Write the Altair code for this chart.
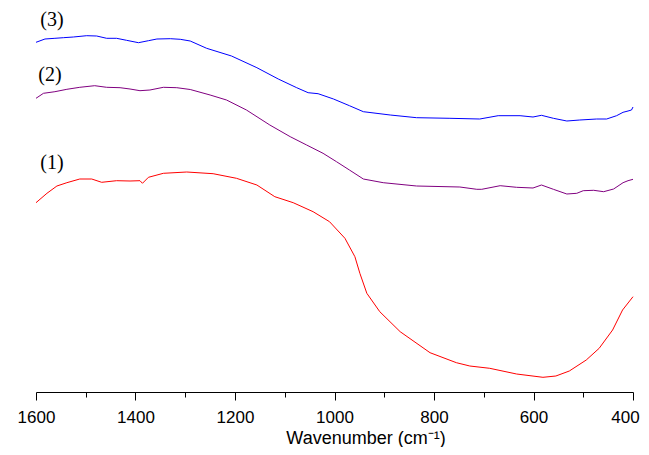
import altair as alt
import pandas as pd

# Wavenumbers (cm^-1) and relative transmittance (arbitrary units)
wn_1 = [1600, 1578, 1558, 1538, 1512, 1488, 1468, 1438, 1411, 1391, 1386, 1374, 1344, 1297,
        1244, 1197, 1156, 1120, 1083, 1043, 1010, 979, 959, 949, 935, 909, 868, 808, 755,
        728, 688, 634, 581, 555, 528, 494, 468, 441, 421, 400]
t_1 = [193.3, 202.7, 210, 213.3, 217, 217, 213.7, 215.3, 215, 215.3, 212.7, 218.7, 222.7, 224,
       222.3, 217.7, 211, 199.3, 193.3, 184.3, 174.3, 157.7, 139.3, 122.7, 102.7, 84.3, 64.3,
       43.3, 33.3, 30, 27.7, 22, 18.7, 20, 25, 36, 47.7, 66, 86, 99.3]

wn_2 = [1600, 1585, 1562, 1538, 1512, 1482, 1458, 1431, 1411, 1391, 1371, 1344, 1317, 1290,
        1250, 1217, 1177, 1130, 1089, 1056, 1023, 996, 970, 942, 902, 835, 748, 714, 704,
        667, 634, 601, 584, 560, 533, 513, 500, 479, 459, 439, 420, 410, 400]
t_2 = [297.7, 302.7, 304.3, 306.7, 308.7, 310.3, 308.7, 308.3, 307, 305.3, 306, 308.7, 308.3,
       306.5, 301, 296, 286, 271, 259.3, 251, 242.7, 234.3, 226, 217, 213.3, 210, 209, 206.7,
       206.7, 210.3, 208.7, 208, 211, 206.7, 202, 202.7, 205.3, 205.7, 204.3, 207, 213.3,
       215.3, 216.7]

wn_3 = [1600, 1582, 1562, 1545, 1525, 1498, 1478, 1458, 1438, 1418, 1394, 1374, 1357, 1330,
        1310, 1290, 1257, 1207, 1156, 1113, 1076, 1053, 1033, 1002, 970, 942, 888, 835, 768,
        708, 671, 627, 601, 584, 560, 533, 507, 473, 453, 433, 420, 410, 403, 400]
t_3 = [353.7, 357, 357.7, 358.3, 359, 360.3, 360, 357.7, 357.7, 355.7, 353.3, 355.3, 357,
       357.3, 356.7, 355, 347.7, 340, 328.3, 317, 308.3, 303.3, 302.3, 297, 290.3, 284.3, 281,
       278.3, 277.7, 277, 280.3, 280.3, 279, 280.7, 277.7, 275, 276, 277, 277, 280.3, 283.7,
       285, 286, 289]

series_names = ["(1)", "(2)", "(3)"]
series_colors = ["#ff0000", "#800080", "#0000ff"]

label_text = ["(3)", "(2)", "(1)"]
label_wn = [1568, 1572, 1568]
label_t = [376, 321, 233]

rows = []
for name, xs, ys in zip(series_names, [wn_1, wn_2, wn_3], [t_1, t_2, t_3]):
    for i, (x, y) in enumerate(zip(xs, ys)):
        rows.append({"series": name, "wn": x, "t": y, "order": i})
df = pd.DataFrame(rows)
lab = pd.DataFrame({"text": label_text, "wn": label_wn, "t": label_t})

xscale = alt.Scale(domain=[400, 1600], reverse=True, nice=False, zero=False)
yscale = alt.Scale(domain=[4, 388], nice=False, zero=False)

lines = alt.Chart(df).mark_line(strokeWidth=1, clip=False).encode(
    x=alt.X("wn:Q", scale=xscale,
            axis=alt.Axis(
                title="Wavenumber (cm⁻¹)",
                values=list(range(400, 1601, 100)),
                format="d",
                labelExpr="datum.value % 200 === 0 ? datum.label : ''",
                tickSize={"condition": {"test": "datum.value % 200 === 0", "value": 8}, "value": 5},
                labelOffset={"condition": {"test": "datum.value === 400", "value": -8}, "value": 0},
                grid=False,
                domainColor="#000000",
                tickColor="#000000",
                labelColor="#000000",
                titleColor="#000000",
                labelFont="Liberation Sans",
                titleFont="Liberation Sans",
                labelFontSize=17,
                titleFontSize=18,
                titleFontWeight="normal",
                labelPadding=9,
                titlePadding=4,
                titleX=329.5,
                labelFlush=False,
            )),
    y=alt.Y("t:Q", scale=yscale, axis=None),
    color=alt.Color("series:N", scale=alt.Scale(domain=series_names, range=series_colors), legend=None),
    order="order:Q",
)

labels = alt.Chart(lab).mark_text(font="Liberation Serif", fontSize=20, color="#000000",
                                  align="center", baseline="middle").encode(
    x=alt.X("wn:Q", scale=xscale),
    y=alt.Y("t:Q", scale=yscale),
    text="text:N",
)

chart = alt.layer(lines, labels).properties(
    width=597, height=384,
    padding={"left": 28, "top": 0, "right": 8, "bottom": 55},
    autosize="none",
).configure_view(stroke=None)

chart.save("out.html", embed_options={"renderer": "svg", "actions": False})
